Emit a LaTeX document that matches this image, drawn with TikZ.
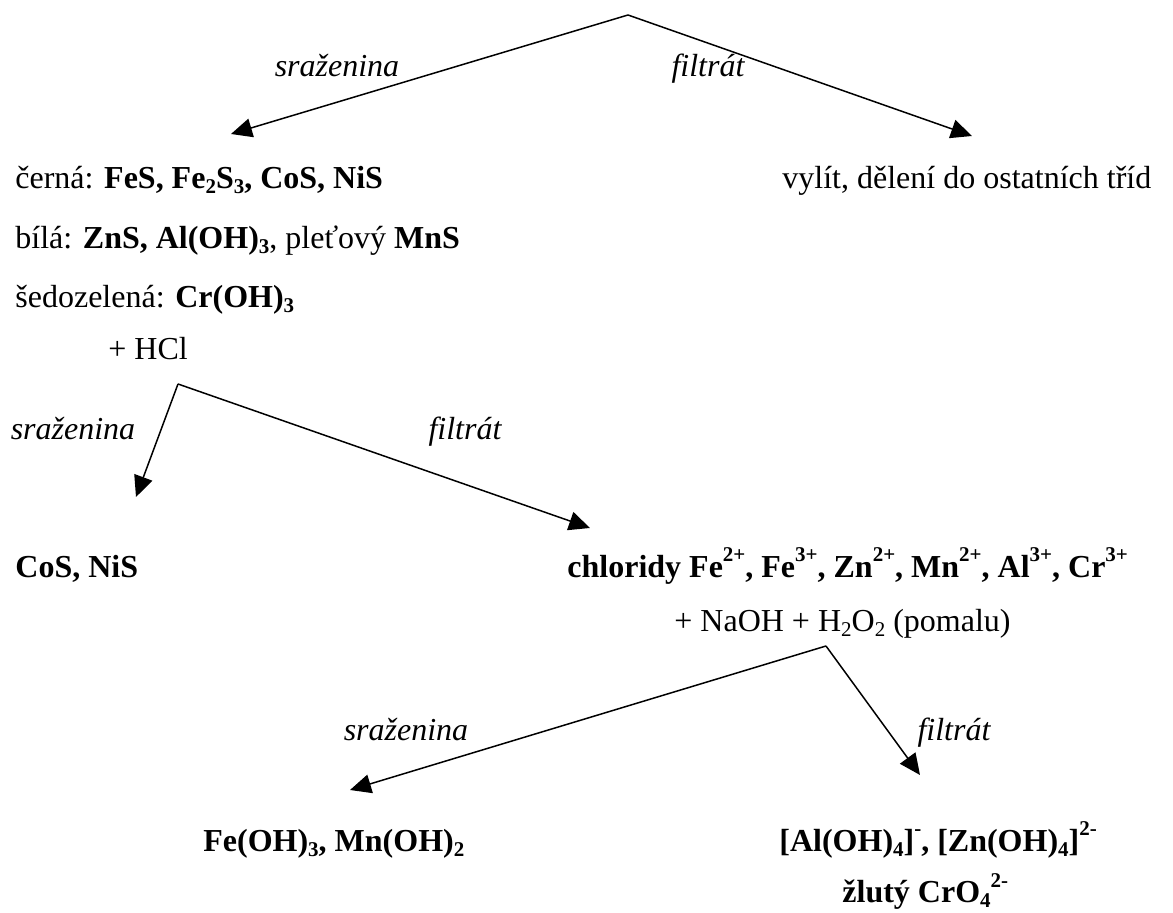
\documentclass[tikz,border=0pt]{standalone}
\usepackage{fontspec}
\setmainfont{Liberation Serif}
\usetikzlibrary{arrows.meta}
\tikzset{
  arr/.style={line width=0.75pt, -{Triangle[length=10.5pt,width=9.5pt]}},
  txt/.style={inner sep=0pt, anchor=base west, font=\fontsize{16}{19}\selectfont},
  lab/.style={inner sep=0pt, anchor=base, font=\fontsize{16}{19}\selectfont\itshape},
}
\newcommand{\sbs}[1]{\raisebox{-0.13em}{\fontsize{10.5}{12}\selectfont #1}}
\newcommand{\sps}[1]{\raisebox{0.5em}{\fontsize{10.5}{12}\selectfont #1}}
\begin{document}
\begin{tikzpicture}[x=0.5pt,y=-0.5pt]
\useasboundingbox (0,0) rectangle (1173,913);
% level 1
\coordinate (a1) at (628,15);
\coordinate (t1l) at (231,134);
\coordinate (t1r) at (972,136);
\draw[arr] (a1) -- (t1l);
\draw[arr] (a1) -- (t1r);
\node[lab] (l1l) at (337,77) {sraženina};
\node[lab] (l1r) at (708,77) {filtrát};
\node[txt] (cerna) at (15,189) {černá: \textbf{FeS, Fe\sbs{2}S\sbs{3}, CoS, NiS}};
\node[txt] (vylit) at (782,189) {vylít, dělení do ostatních tříd};
\node[txt] (bila) at (15,249) {bílá: \textbf{ZnS, Al(OH)\sbs{3}}, pleťový \textbf{MnS}};
\node[txt] (sedo) at (15,308) {šedozelená: \textbf{Cr(OH)\sbs{3}}};
\node[txt] (hcl) at (108,360) {+ HCl};
% level 2
\coordinate (a2) at (178,384);
\coordinate (t2l) at (136,497);
\coordinate (t2r) at (590,528);
\draw[arr] (a2) -- (t2l);
\draw[arr] (a2) -- (t2r);
\node[lab] (l2l) at (73,440) {sraženina};
\node[lab] (l2r) at (465,440) {filtrát};
\node[txt] (cos) at (15,578) {\textbf{CoS, NiS}};
\node[txt] (chl) at (567,578) {\textbf{chloridy Fe\sps{2+}, Fe\sps{3+}, Zn\sps{2+}, Mn\sps{2+}, Al\sps{3+}, Cr\sps{3+}}};
\node[txt] (naoh) at (674,632) {+ NaOH + H\sbs{2}O\sbs{2} (pomalu)};
% level 3
\coordinate (a3) at (826,646);
\coordinate (t3l) at (350,790);
\coordinate (t3r) at (920,775);
\draw[arr] (a3) -- (t3l);
\draw[arr] (a3) -- (t3r);
\node[lab] (l3l) at (406,741) {sraženina};
\node[lab] (l3r) at (954,741) {filtrát};
\node[txt] (feoh) at (203,852) {\textbf{Fe(OH)\sbs{3}, Mn(OH)\sbs{2}}};
\node[txt] (aloh) at (779,852) {\textbf{[Al(OH)\sbs{4}]\sps{-}, [Zn(OH)\sbs{4}]\sps{2-}}};
\node[txt] (cro) at (842,903) {\textbf{žlutý CrO\sbs{4}\sps{2-}}};
\end{tikzpicture}
\end{document}
